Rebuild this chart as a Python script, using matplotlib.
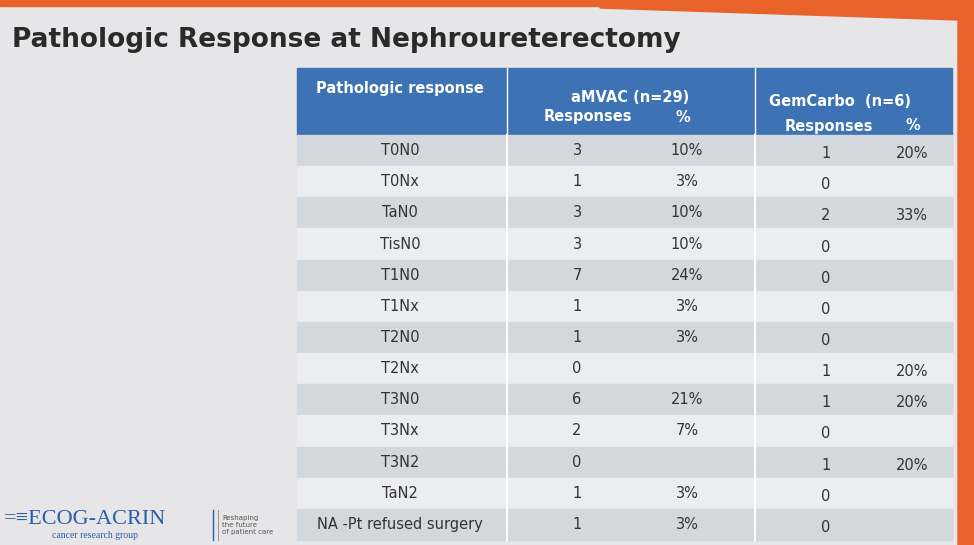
import matplotlib.pyplot as plt
from matplotlib.patches import Rectangle, Polygon

title = "Pathologic Response at Nephroureterectomy"
responses = ["T0N0", "T0Nx", "TaN0", "TisN0", "T1N0", "T1Nx", "T2N0", "T2Nx",
             "T3N0", "T3Nx", "T3N2", "TaN2", "NA -Pt refused surgery"]
amvac_n = [3, 1, 3, 3, 7, 1, 1, 0, 6, 2, 0, 1, 1]
amvac_pct = ["10%", "3%", "10%", "10%", "24%", "3%", "3%", "", "21%", "7%", "", "3%", "3%"]
gem_n = [1, 0, 2, 0, 0, 0, 0, 1, 1, 0, 1, 0, 0]
gem_pct = ["20%", "", "33%", "", "", "", "", "20%", "20%", "", "20%", "", ""]

W, H = 974, 545
fig = plt.figure(figsize=(W / 100, H / 100), dpi=100)
ax = fig.add_axes([0, 0, 1, 1])
ax.set_xlim(0, W)
ax.set_ylim(H, 0)
ax.axis("off")
ax.add_patch(Rectangle((0, 0), W, H, color="#e6e6e8", zorder=0))
# orange frame at top right
ax.add_patch(Polygon([(600, 0), (974, 0), (974, 545), (958, 545), (958, 20), (600, 8)],
                     color="#e8622a", zorder=1))
ax.add_patch(Rectangle((0, 0), 600, 6, color="#e8622a", zorder=1))

ax.text(12, 40, title, fontsize=19, fontweight="bold", color="#2a2a2a", va="center")

x0, x1, x2, x3 = 297, 507, 755, 952
hy0, hy1 = 68, 135
rh = (540 - hy1) / len(responses)
hcol = "#3d72b4"
ax.add_patch(Rectangle((x0, hy0), x3 - x0, hy1 - hy0, color=hcol, zorder=2))
for xv in (x1, x2):
    ax.plot([xv, xv], [hy0, hy1], color="white", lw=1, zorder=3)
hk = dict(color="white", fontsize=10.5, fontweight="bold", va="center", zorder=4)
ax.text(400, 88, "Pathologic response", ha="center", **hk)
ax.text(630, 97, "aMVAC (n=29)", ha="center", **hk)
ax.text(588, 117, "Responses", ha="center", **hk)
ax.text(683, 117, "%", ha="center", **hk)
ax.text(840, 102, "GemCarbo  (n=6)", ha="center", **hk)
ax.text(829, 126, "Responses", ha="center", **hk)
ax.text(913, 126, "%", ha="center", **hk)

tk = dict(fontsize=10.5, color="#333333", va="center", ha="center", zorder=4)
for i, r in enumerate(responses):
    y = hy1 + i * rh
    c = "#d3d7de" if i % 2 == 0 else "#ebedf0"
    ax.add_patch(Rectangle((x0, y), x3 - x0, rh, color=c, zorder=2))
    ym = y + rh / 2
    ax.text(400, ym, r, **tk)
    ax.text(577, ym, str(amvac_n[i]), **tk)
    ax.text(687, ym, amvac_pct[i], **tk)
    ax.text(826, ym + 3, str(gem_n[i]), **tk)
    ax.text(912, ym + 3, gem_pct[i], **tk)
for xv in (x1, x2):
    ax.plot([xv, xv], [hy1, 540], color="white", lw=1.5, zorder=3)

ax.text(4, 519, "=\u2261ECOG-ACRIN", fontsize=16, color="#2b5ea8", va="center",
        family="Liberation Serif")
ax.text(138, 535, "cancer research group", fontsize=7, color="#2b5ea8", va="center",
        ha="right", family="Liberation Serif")
ax.plot([213, 213], [510, 540], color="#2b5ea8", lw=1)
ax.plot([218, 218], [510, 540], color="#888888", lw=0.6)
ax.text(222, 525, "Reshaping\nthe future\nof patient care", fontsize=5, color="#555555",
        va="center", linespacing=1.2)

fig.savefig("out.png", dpi=100)
